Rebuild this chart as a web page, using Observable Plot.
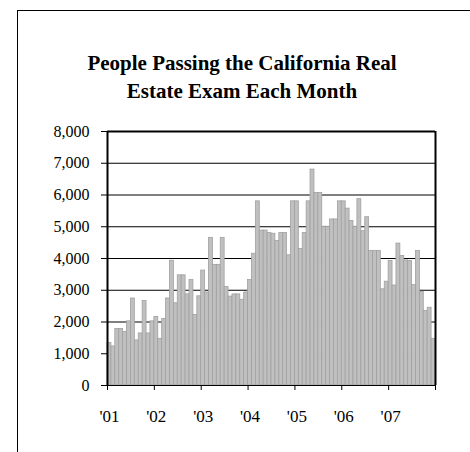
<!DOCTYPE html>
<html><head><meta charset="utf-8">
<script src="https://cdn.jsdelivr.net/npm/d3@7"></script>
<script src="https://cdn.jsdelivr.net/npm/@observablehq/plot@0.6"></script>
<style>
body{margin:0;background:#fff;}
#wrap{position:relative;width:470px;height:452px;overflow:hidden;font-family:"Liberation Serif","Times New Roman",serif;}
#frame{position:absolute;left:17px;top:10px;width:500px;height:500px;border-left:1px solid #000;border-top:1px solid #000;}
#title{position:absolute;left:0;width:484px;top:49px;text-align:center;font-weight:bold;font-size:21px;line-height:28px;color:#000;}
#chart{position:absolute;left:0;top:0;}
</style></head>
<body><div id="wrap"><div id="frame"></div><div id="title">People Passing the California Real<br>Estate Exam Each Month</div><div id="chart"></div></div>
<script>
const yearLabels = ["'01","'02","'03","'04","'05","'06","'07"];
const passed2001 = [1340,1230,1780,1780,1690,2020,2740,1420,1640,2660,1640,2020];
const passed2002 = [2160,1470,2100,2740,3930,2590,3470,3470,2870,3320,2220,2810];
const passed2003 = [3620,2930,4650,3800,3800,4650,3100,2800,2870,2870,2700,2930];
const passed2004 = [3320,4150,5800,4880,4880,4800,4780,4550,4800,4800,4100,5800];
const passed2005 = [5800,4300,4800,5800,6800,6060,6060,5000,5000,5230,5230,5800];
const passed2006 = [5800,5570,5180,5000,5870,4860,5300,4240,4240,4240,3030,3270];
const passed2007 = [3920,3150,4470,4080,3940,3920,3160,4240,2950,2350,2450,1470];
const yTicks = [0,1000,2000,3000,4000,5000,6000,7000,8000];

const values = [].concat(passed2001,passed2002,passed2003,passed2004,passed2005,passed2006,passed2007);
const data = values.map((v,i)=>({m:i, v}));
const nMonths = values.length;
const yearStarts = yearLabels.map((_,k)=>k*12).concat([nMonths]);
const labelPos = yearLabels.map((_,k)=>k*12+0.5);

const chart = Plot.plot({
  width:470, height:452,
  marginLeft:107, marginRight:35, marginTop:131, marginBottom:67,
  style:{fontFamily:"'Liberation Serif','Times New Roman',serif", fontSize:"16px", background:"transparent", color:"#000"},
  x:{domain:[0,nMonths], axis:null},
  y:{domain:[0,8000], axis:null},
  marks:[
    Plot.ruleY(yTicks.slice(1,-1), {stroke:"#000", strokeWidth:1}),
    Plot.rectY(data, {x1:"m", x2:d=>d.m+1, y:"v", fill:"#c0c0c0", stroke:"#a0a0a0", strokeWidth:0.8}),
    Plot.axisY({ticks:yTicks, tickSize:6, tickPadding:12, tickFormat:d3.format(","), fontSize:16, stroke:"#000", strokeOpacity:1, label:null}),
    Plot.axisX({ticks:yearStarts, tickSize:5, tickFormat:()=>"", stroke:"#000", strokeOpacity:1, label:null}),
    Plot.axisX({ticks:labelPos, tickSize:0, tickPadding:24, fontSize:17, label:null, tickFormat:(d)=>yearLabels[Math.round((d-0.5)/12)]}),
    Plot.ruleY([0], {stroke:"#000", strokeWidth:1}),
    Plot.ruleY([8000], {stroke:"#000", strokeWidth:2}),
    Plot.ruleX([0, nMonths], {stroke:"#000", strokeWidth:2})
  ]
});
document.getElementById("chart").appendChild(chart);
</script>
</body></html>
